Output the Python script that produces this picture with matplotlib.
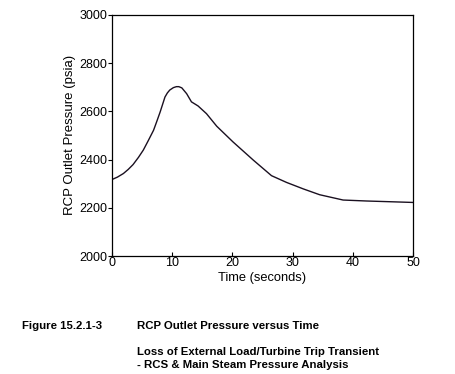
import matplotlib
matplotlib.use("Agg")
import matplotlib.pyplot as plt

plt.rcParams["font.family"] = ["Liberation Sans", "DejaVu Sans"]

# RCP outlet pressure
TIME_S = [0, 0.9, 1.9, 2.7, 3.5, 4.4, 5.2, 6.0, 6.9, 7.4, 8.0, 8.8, 9.2, 9.6,
          10.2, 10.7, 11.1, 11.6, 12.4, 13.2, 14.3, 15.7, 17.4, 20.1, 23.5,
          26.5, 29.0, 31.8, 34.5, 38.4, 42.3, 46.2, 50]
PRESSURE_PSIA = [2317, 2327, 2342, 2359, 2379, 2409, 2439, 2477, 2521, 2555,
                 2597, 2659, 2676, 2688, 2698, 2702, 2702, 2697, 2673, 2639,
                 2622, 2590, 2538, 2473, 2397, 2333, 2305, 2278, 2254, 2232,
                 2228, 2225, 2222]

X_TICKS = [0, 10, 20, 30, 40, 50]
Y_TICKS = [2000, 2200, 2400, 2600, 2800, 3000]

fig = plt.figure(figsize=(4.56, 3.74), dpi=100)
ax = fig.add_axes([0.2456, 0.3155, 0.66, 0.645])

ax.plot(TIME_S, PRESSURE_PSIA, color="#1a1020", linewidth=1.0)

ax.set_xlim(0, 50)
ax.set_ylim(2000, 3000)
ax.set_xticks(X_TICKS)
ax.set_yticks(Y_TICKS)
ax.tick_params(axis="x", direction="in", length=3, width=0.8, labelsize=9, pad=1)
ax.tick_params(axis="y", direction="out", length=3, width=0.8, labelsize=9, pad=0.5)
for side in ax.spines.values():
    side.set_linewidth(0.9)

ax.set_xlabel("Time (seconds)", fontsize=9.3, labelpad=2)
ax.set_ylabel("RCP Outlet Pressure (psia)", fontsize=9.5, labelpad=2)

# caption block below the plot
cap = dict(fontsize=8.2, fontweight="bold", va="center", ha="left")
fig.text(22 / 456, 1 - 326 / 374, "Figure 15.2.1-3", **cap)
fig.text(137 / 456, 1 - 326 / 374, "RCP Outlet Pressure versus Time", **cap)
fig.text(137 / 456, 1 - 352 / 374, "Loss of External Load/Turbine Trip Transient", **cap)
fig.text(137 / 456, 1 - 365 / 374, "- RCS & Main Steam Pressure Analysis", **cap)

fig.savefig("out.png", dpi=100)
